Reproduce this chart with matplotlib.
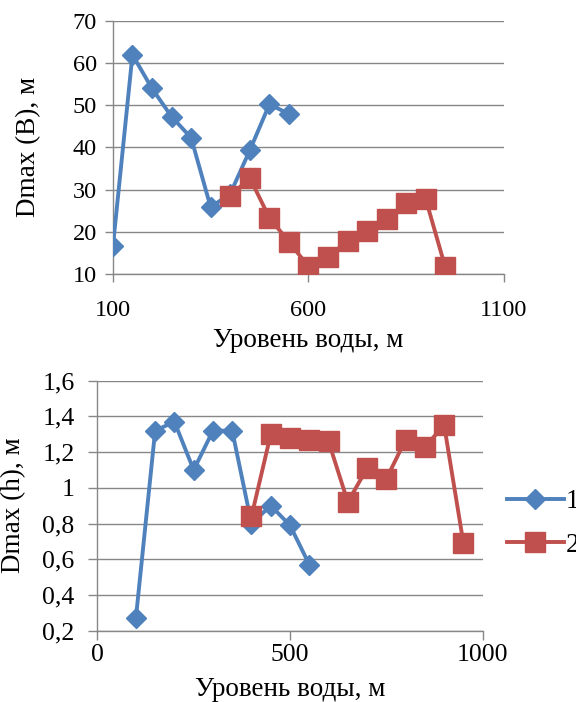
import matplotlib.pyplot as plt
from matplotlib.ticker import FuncFormatter

plt.rcParams["font.family"] = ["Liberation Serif", "DejaVu Serif"]

# ===== data =====
level_1 = [100, 150, 200, 250, 300, 350, 400, 450, 500, 550]
level_2 = [400, 450, 500, 550, 600, 650, 700, 750, 800, 850, 900, 950]

dmax_b_1 = [16.5, 62, 54, 47.3, 42.3, 25.8, 29, 39.3, 50.2, 48]
dmax_b_2 = [28.4, 32.8, 23.3, 17.6, 11.7, 14.0, 17.7, 20.1, 23.0, 26.8, 27.7, 11.5]

dmax_h_1 = [0.27, 1.32, 1.37, 1.10, 1.32, 1.32, 0.80, 0.90, 0.79, 0.57]
dmax_h_2 = [0.84, 1.30, 1.28, 1.27, 1.26, 0.92, 1.11, 1.05, 1.27, 1.23, 1.35, 0.69]

series_names = ["1", "2"]

blue = "#4F81BD"
red = "#C0504D"
grid_color = "#878787"
label_fs = 19.5

fig = plt.figure(figsize=(5.76, 7.02), dpi=100)


def style_axes(ax, fs, tick_len, xpad, ypad):
    ax.spines["top"].set_visible(False)
    ax.spines["right"].set_visible(False)
    for s in ("left", "bottom"):
        ax.spines[s].set_color(grid_color)
        ax.spines[s].set_linewidth(1)
    ax.yaxis.grid(True, color=grid_color, linewidth=1)
    ax.set_axisbelow(True)
    ax.tick_params(axis="both", direction="out", length=tick_len, width=1,
                   color=grid_color, labelsize=fs)
    ax.tick_params(axis="x", pad=xpad)
    ax.tick_params(axis="y", pad=ypad)


# ===== top chart =====
ax1 = fig.add_axes([0.196, 0.610, 0.679, 0.360])
ax1.plot(level_1, dmax_b_1, color=blue, lw=2.8, marker="D", ms=10, zorder=3)
ax1.plot(level_2, dmax_b_2, color=red, lw=2.8, marker="s", ms=14, zorder=4)
ax1.set_xlim(100, 1100)
ax1.set_ylim(10, 70)
ax1.set_xticks([100, 600, 1100])
ax1.set_yticks(range(10, 71, 10))
style_axes(ax1, 17.5, 5.8, 13, 5.8)
ax1.set_xlabel("Уровень воды, м", fontsize=label_fs, va="center")
ax1.xaxis.set_label_coords(0.5, -0.265)
ax1.set_ylabel("Dmax (B), м", fontsize=label_fs, va="center")
ax1.yaxis.set_label_coords(-0.215, 0.5)

# ===== bottom chart =====
ax2 = fig.add_axes([0.169, 0.1016, 0.669, 0.3561])
ax2.plot(level_1, dmax_h_1, color=blue, lw=2.8, marker="D", ms=10, zorder=3,
         label=series_names[0])
ax2.plot(level_2, dmax_h_2, color=red, lw=2.8, marker="s", ms=14, zorder=4,
         label=series_names[1])
ax2.set_xlim(0, 1000)
ax2.set_ylim(0.2, 1.6)
ax2.set_xticks([0, 500, 1000])
ax2.set_yticks([0.2, 0.4, 0.6, 0.8, 1.0, 1.2, 1.4, 1.6])
ax2.yaxis.set_major_formatter(FuncFormatter(lambda v, p: f"{v:g}".replace(".", ",")))
style_axes(ax2, 18.5, 6.5, 3, 10)
ax2.set_xlabel("Уровень воды, м", fontsize=label_fs, va="center")
ax2.xaxis.set_label_coords(0.5, -0.236)
ax2.set_ylabel("Dmax (h), м", fontsize=label_fs, va="center")
ax2.yaxis.set_label_coords(-0.218, 0.5)

fig.legend(loc="center left", bbox_to_anchor=(0.880, 0.2543), frameon=False,
           fontsize=label_fs, handlelength=2.1, handletextpad=0.08,
           labelspacing=0.68, borderaxespad=0, borderpad=0)

fig.savefig("out.png", dpi=100)
